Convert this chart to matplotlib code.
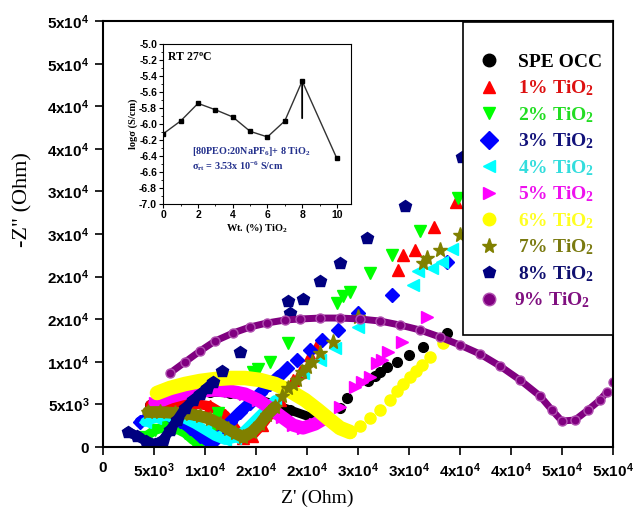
import numpy as np
import matplotlib.pyplot as plt
from matplotlib.patches import Rectangle
from matplotlib.ticker import MultipleLocator, FormatStrFormatter

plt.rcParams['mathtext.default'] = 'regular'
plt.rcParams['axes.unicode_minus'] = False

# Nyquist data in kOhm
# "arc" = dense semicircle part, "tail" = sparse spike points
spe_arc_x = [4.61, 6.57, 8.53, 10.49, 12.45, 14.41, 16.37, 18.33, 20.29, 21.76]
spe_arc_y = [4.93, 5.75, 6.22, 6.46, 6.34, 5.87, 5.17, 4.34, 3.52, 3.29]
spe_tail_x = [23.23, 23.91, 25.97, 26.66, 27.15, 27.83, 28.81, 29.99, 31.36, 33.72]
spe_tail_y = [4.58, 5.75, 7.75, 8.34, 8.81, 9.39, 9.98, 10.80, 11.74, 13.38]

t1_arc_x = [4.61, 6.57, 8.53, 10.49, 11.96, 12.94, 13.72, 14.60, 15.58, 16.56]
t1_arc_y = [4.93, 5.17, 5.17, 4.81, 3.76, 2.23, 1.06, 1.29, 2.58, 4.11]
t1_tail_x = [17.35, 18.03, 18.62, 19.31, 20.29, 20.87, 28.91, 29.40, 30.58, 32.44, 34.61]
t1_tail_y = [5.52, 6.69, 7.87, 8.81, 10.80, 11.74, 20.78, 22.54, 23.13, 25.83, 28.76]

t2_arc_x = [4.12, 5.10, 6.08, 7.06, 8.04, 8.82, 9.51, 10.19, 10.78, 11.27]
t2_arc_y = [1.17, 2.00, 2.35, 2.23, 1.64, 0.82, 0.47, 1.17, 2.35, 3.99]
t2_tail_x = [14.70, 15.19, 16.37, 18.13, 22.93, 23.52, 24.21, 26.17, 28.32, 31.07, 34.79]
t2_tail_y = [8.81, 9.16, 9.98, 12.21, 16.91, 17.73, 18.20, 20.43, 22.54, 25.36, 29.23]

t3_arc_x = [3.63, 4.61, 5.59, 6.57, 7.55, 8.53, 9.51, 10.29, 10.98, 11.66, 12.45, 13.43, 14.41, 15.39, 16.37, 17.35]
t3_arc_y = [2.94, 3.52, 3.87, 3.64, 3.05, 2.23, 1.29, 0.70, 0.82, 1.76, 2.94, 4.11, 5.17, 6.34, 7.40, 8.45]
t3_tail_x = [18.03, 19.01, 20.29, 21.46, 23.03, 24.99, 28.32, 33.72]
t3_tail_y = [9.27, 10.21, 11.39, 12.56, 13.74, 15.73, 17.85, 21.72]

t4_arc_x = [4.12, 5.10, 6.08, 7.06, 8.04, 9.02, 10.00, 10.98, 11.96, 12.94, 13.92, 14.90, 15.88, 16.86]
t4_arc_y = [2.94, 3.40, 3.64, 3.64, 3.29, 2.70, 2.00, 1.29, 0.82, 1.06, 2.00, 3.17, 4.34, 5.52]
t4_tail_x = [18.33, 19.60, 21.27, 22.74, 24.99, 30.38, 30.87, 32.24, 33.22, 34.20]
t4_tail_y = [7.04, 8.69, 10.21, 11.62, 14.09, 19.02, 20.66, 21.01, 21.72, 23.25]

t5_arc_x = [5.10, 6.57, 8.04, 9.51, 10.98, 12.45, 13.92, 15.19, 16.37, 17.54, 18.62, 19.60, 20.78, 21.95]
t5_arc_y = [5.17, 5.87, 6.34, 6.57, 6.69, 6.57, 6.22, 5.52, 4.58, 3.52, 2.58, 2.23, 2.70, 3.52]
t5_tail_x = [23.23, 24.70, 25.38, 26.17, 26.85, 27.34, 27.93, 29.30, 31.75]
t5_tail_y = [4.70, 7.04, 7.63, 8.22, 9.86, 10.21, 11.15, 12.33, 15.26]

t6_arc_x = [5.29, 6.57, 8.04, 9.51, 10.98, 12.45, 13.92, 15.39, 16.86, 18.33, 19.80, 21.07, 22.25, 23.23, 24.21]
t6_arc_y = [6.34, 6.93, 7.40, 7.75, 7.98, 8.10, 8.10, 7.87, 7.40, 6.57, 5.52, 4.34, 3.17, 2.23, 1.76]
t6_tail_x = [25.19, 26.17, 27.15, 28.13, 28.81, 29.40, 30.09, 30.67, 31.26, 32.05, 33.32]
t6_tail_y = [2.47, 3.40, 4.34, 5.52, 6.57, 7.40, 8.22, 8.92, 9.63, 10.57, 12.21]

t7_arc_x = [4.41, 5.59, 7.06, 8.53, 9.51, 10.49, 11.47, 12.25, 12.94, 13.72, 14.60, 15.39, 16.07, 16.86]
t7_arc_y = [4.11, 4.11, 3.99, 3.87, 3.64, 3.29, 2.70, 2.11, 1.64, 1.17, 1.76, 2.70, 3.76, 4.70]
t7_tail_x = [17.54, 18.13, 18.62, 19.01, 19.50, 19.99, 20.48, 21.27, 22.54, 24.99, 31.36, 31.75, 33.03, 34.99]
t7_tail_y = [5.99, 6.93, 7.40, 7.87, 8.81, 9.39, 9.98, 11.04, 12.33, 15.26, 21.60, 22.19, 23.13, 24.89]

t8_arc_x = [2.45, 3.33, 4.21, 5.10, 5.88, 6.57, 7.25, 8.04, 8.82, 9.51, 10.19, 10.78]
t8_arc_y = [1.76, 1.29, 0.70, 0.35, 0.82, 2.00, 3.17, 4.58, 5.52, 6.22, 6.93, 7.63]
t8_tail_x = [11.66, 13.43, 18.13, 18.33, 19.60, 21.27, 23.23, 25.88, 29.60, 35.19]
t8_tail_y = [8.92, 11.15, 17.14, 15.73, 17.38, 19.49, 21.60, 24.54, 28.29, 34.05]

t9_arc_x = [6.57, 8.04, 9.51, 10.98, 12.74, 14.41, 16.07, 17.84, 19.31, 21.27, 23.23, 25.19, 27.15, 29.11,
            31.07, 33.03, 34.99, 36.95, 38.91, 40.87, 42.83, 44.00, 44.98, 46.26, 47.53, 48.71, 49.39]
t9_arc_y = [8.69, 9.98, 11.27, 12.44, 13.38, 14.09, 14.56, 14.91, 15.03, 15.14, 15.14, 15.03, 14.79, 14.32,
            13.74, 12.91, 11.97, 10.92, 9.51, 7.87, 5.99, 4.34, 3.05, 3.17, 4.34, 5.52, 6.46]
t9_tail_x = [49.98]
t9_tail_y = [7.63]

# inset: conductivity vs filler content
wt_tio2 = [0, 1, 2, 3, 4, 5, 6, 7, 8, 10]
log_sigma = [-6.12, -5.96, -5.74, -5.82, -5.91, -6.09, -6.16, -5.96, -5.46, -6.43]

labels = ['SPE OCC', '1% TiO$_2$', '2% TiO$_2$', '3% TiO$_2$', '4% TiO$_2$', '5% TiO$_2$',
          '6% TiO$_2$', '7% TiO$_2$', '8% TiO$_2$', '9% TiO$_2$']
tick_text = ['0', '5x10$^3$', '1x10$^4$', '2x10$^4$', '2x10$^4$', '3x10$^4$', '3x10$^4$',
             '4x10$^4$', '4x10$^4$', '5x10$^4$', '5x10$^4$']

# label, marker, colour, legend text colour, marker size, band width, data
series = [
    (labels[0], 'o', 'black', 'black', 7, 6.5, spe_arc_x, spe_arc_y, spe_tail_x, spe_tail_y),
    (labels[1], '^', 'red', '#dd1111', 9, 7, t1_arc_x, t1_arc_y, t1_tail_x, t1_tail_y),
    (labels[2], 'v', '#00ff00', '#22dd22', 9, 7, t2_arc_x, t2_arc_y, t2_tail_x, t2_tail_y),
    (labels[3], 'D', 'blue', '#12127a', 7.5, 8, t3_arc_x, t3_arc_y, t3_tail_x, t3_tail_y),
    (labels[4], '<', 'cyan', '#33dddd', 9, 7, t4_arc_x, t4_arc_y, t4_tail_x, t4_tail_y),
    (labels[5], '>', 'magenta', '#ee11ee', 9, 9.5, t5_arc_x, t5_arc_y, t5_tail_x, t5_tail_y),
    (labels[6], 'o', 'yellow', '#ffff22', 8, 10.5, t6_arc_x, t6_arc_y, t6_tail_x, t6_tail_y),
    (labels[7], '*', '#808000', '#7a7a10', 11, 8.5, t7_arc_x, t7_arc_y, t7_tail_x, t7_tail_y),
    (labels[8], 'p', '#000080', '#101070', 9, 7, t8_arc_x, t8_arc_y, t8_tail_x, t8_tail_y),
    (labels[9], 'o', '#800080', '#801080', 6.5, 5, t9_arc_x, t9_arc_y, t9_tail_x, t9_tail_y),
]

fig = plt.figure(figsize=(6.36, 5.15), dpi=100)
ax = fig.add_axes([0.162, 0.132, 0.802, 0.827])

for lab, mk, col, tcol, ms, lw, arx, ary, tlx, tly in series:
    arx = np.array(arx) * 1e3
    ary = np.array(ary) * 1e3
    tlx = np.array(tlx) * 1e3
    tly = np.array(tly) * 1e3
    edge = '#b050b0' if col == '#800080' else col
    ax.plot(arx, ary, '-', color=col, lw=lw, solid_capstyle='round', solid_joinstyle='round')
    ax.plot(arx, ary, mk, color=col, ms=ms, mec=edge, ls='none')
    ax.plot(tlx, tly, mk, color=col, ms=ms, mec=edge, ls='none')

ax.set_xlim(0, 50000)
ax.set_ylim(0, 50000)
ticks = np.arange(0, 50001, 5000)
ax.set_xticks(ticks)
ax.set_yticks(ticks)
ax.set_xticklabels(tick_text, fontsize=11, fontweight='bold', family='Liberation Sans')
ax.set_yticklabels(tick_text, fontsize=11, fontweight='bold', family='Liberation Sans')
ax.tick_params(direction='out', length=6, width=1.2, pad=4)
for s in ax.spines.values():
    s.set_linewidth(1.5)

fig.text(23 / 636, 1 - 200 / 515, '-Z" (Ohm)', rotation=90, fontsize=16,
         family='Liberation Serif', ha='center', va='center')
fig.text(317 / 636, 1 - 498 / 515, "Z' (Ohm)", fontsize=14,
         family='Liberation Serif', ha='center', va='center')

# legend drawn by hand so the box matches the original
ax.add_patch(Rectangle((0.706, 0.263), 0.294, 0.735, transform=ax.transAxes,
                       fc='white', ec='black', lw=1.2, zorder=10, clip_on=False))
for i, (lab, mk, col, tcol, ms, lw, arx, ary, tlx, tly) in enumerate(series):
    yy = 0.908 - i * 0.0622
    edge = '#b050b0' if col == '#800080' else col
    ax.plot([0.757], [yy], mk, color=col, mec=edge, ms=9 if mk != '*' else 11,
            transform=ax.transAxes, zorder=11, clip_on=False)
    ax.text(0.814 if i < 9 else 0.806, yy - 0.016, lab, color=tcol, transform=ax.transAxes,
            fontsize=14, family='Liberation Serif', fontweight='bold', va='baseline', zorder=11)

# inset
ins = fig.add_axes([0.2568, 0.6039, 0.2947, 0.3101])
ins.plot(wt_tio2, log_sigma, '-', color='#333333', lw=1)
ins.plot(wt_tio2, log_sigma, 's', color='black', ms=3.5)
ins.annotate('', xy=(8, log_sigma[8]), xytext=(8, -5.96),
             arrowprops=dict(arrowstyle='-', color='black', lw=1.3))
ins.set_xlim(0, 10.8)
ins.set_ylim(-7.0, -5.0)
ins.xaxis.set_major_locator(MultipleLocator(2))
ins.xaxis.set_minor_locator(MultipleLocator(1))
ins.yaxis.set_major_locator(MultipleLocator(0.2))
ins.yaxis.set_minor_locator(MultipleLocator(0.1))
ins.yaxis.set_major_formatter(FormatStrFormatter('%.1f'))
ins.tick_params(which='major', direction='out', length=3, width=0.8, pad=1.5, labelsize=7.5)
ins.tick_params(which='minor', direction='out', length=1.5, width=0.6)
for t in ins.get_xticklabels() + ins.get_yticklabels():
    t.set_fontweight('bold')
    t.set_family('Liberation Sans')
for s in ins.spines.values():
    s.set_linewidth(0.8)
ins.set_xlabel('Wt. (%) TiO$_2$', fontsize=7.5, fontweight='bold', family='Liberation Serif', labelpad=1)
ins.set_ylabel('log\u03c3 (S/cm)', fontsize=7.5, fontweight='bold', family='Liberation Serif', labelpad=1)
ins.text(0.23, -5.175, 'RT 27$^o$C', fontsize=8.5, fontweight='bold', family='Liberation Serif', va='center')
ins.text(1.67, -6.34, '[80PEO:20NaPF$_6$]+ 8 TiO$_2$', color='#23308c', fontsize=7.3,
         fontweight='bold', family='Liberation Serif', va='center')
ins.text(1.67, -6.52, '\u03c3$_{rt}$ = 3.53x 10$^{-6}$ S/cm', color='#23308c', fontsize=7.3,
         fontweight='bold', family='Liberation Serif', va='center')

fig.savefig('out.png', dpi=100)
